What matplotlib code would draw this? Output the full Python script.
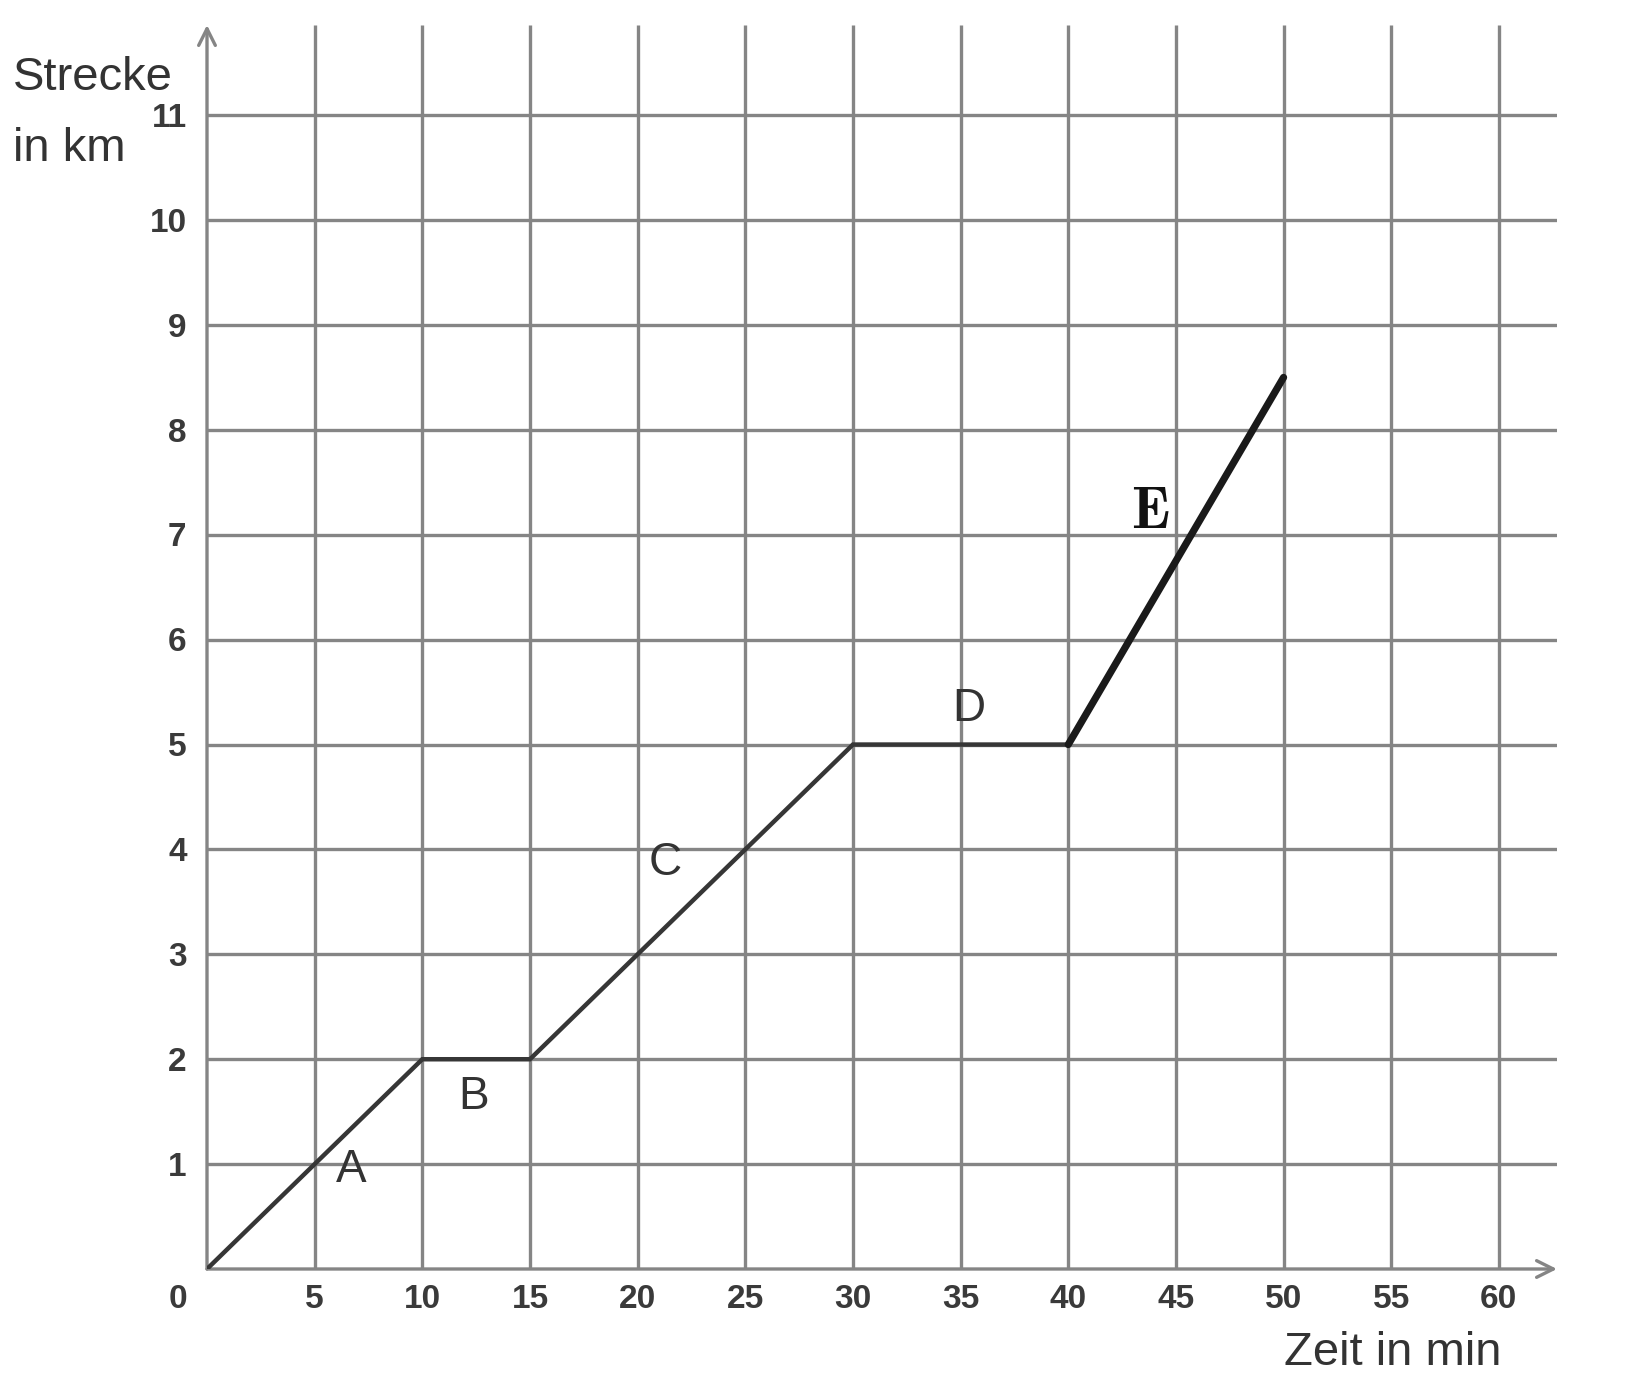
import numpy as np
import matplotlib
matplotlib.use('Agg')
import matplotlib.pyplot as plt

# Weg-Zeit-Diagramm
zeit = [0, 10, 15, 30, 40]        # min, Abschnitte A-D
strecke = [0, 2, 2, 5, 5]          # km
zeit_e = [40, 50]                  # Abschnitt E
strecke_e = [5, 8.5]

labels = ['A', 'B', 'C', 'D']
label_x = [6.7, 12.4, 21.3, 35.4]
label_y = [0.94, 1.64, 3.87, 5.34]

x_ticks = [5, 10, 15, 20, 25, 30, 35, 40, 45, 50, 55, 60]
y_ticks = [1, 2, 3, 4, 5, 6, 7, 8, 9, 10, 11]

plt.rcParams['font.family'] = ['Liberation Sans', 'DejaVu Sans']
plt.rcParams['mathtext.fontset'] = 'cm'

fig = plt.figure(figsize=(16.32, 13.90), dpi=100)
ax = fig.add_axes([207/1632, 121/1390, 1350/1632, 1244/1390])
xmax, ymax = 62.7, 11.86
ax.set_xlim(0, xmax)
ax.set_ylim(0, ymax)
ax.axis('off')

grid_c = '#858585'
for x in x_ticks:
    ax.plot([x, x], [0, ymax], color=grid_c, lw=2.4, solid_capstyle='butt', zorder=1)
for y in y_ticks:
    ax.plot([0, xmax], [y, y], color=grid_c, lw=2.4, solid_capstyle='butt', zorder=1)

# Achsen mit Pfeilen
ax.annotate('', xy=(xmax, 0), xytext=(0, 0),
            arrowprops=dict(arrowstyle='->', color=grid_c, lw=2.4, mutation_scale=30,
                            shrinkA=0, shrinkB=0), annotation_clip=False)
ax.annotate('', xy=(0, ymax), xytext=(0, 0),
            arrowprops=dict(arrowstyle='->', color=grid_c, lw=2.4, mutation_scale=30,
                            shrinkA=0, shrinkB=0), annotation_clip=False)

ax.plot(zeit, strecke, color='#363636', lw=3.2, solid_joinstyle='miter', zorder=3)
ax.plot(zeit_e, strecke_e, color='#1a1a1a', lw=5.2, solid_capstyle='round', zorder=4)

for t, x, y in zip(labels, label_x, label_y):
    ax.text(x, y, t, fontsize=33, color='#333333', ha='center', va='center', zorder=5)
ax.text(43.8, 7.21, r'$\mathbf{E}$', fontsize=42, color='#111111', ha='center',
        va='center', zorder=5)

tick_c = '#3a3a3a'
for x in x_ticks:
    ax.text(x, -0.29, str(x), fontsize=24, fontweight='bold', color=tick_c,
            ha='center', va='center')
for y in y_ticks:
    ax.text(-0.95, y - 0.03, str(y), fontsize=24, fontweight='bold', color=tick_c,
            ha='right', va='center')
ax.text(-1.35, -0.29, '0', fontsize=24, fontweight='bold', color=tick_c,
        ha='center', va='center')

ax.text(-9.0, 11.35, 'Strecke', fontsize=34, color='#333333', ha='left', va='center')
ax.text(-9.0, 10.68, 'in km', fontsize=34, color='#333333', ha='left', va='center')
ax.text(60.1, -0.8, 'Zeit in min', fontsize=34, color='#333333', ha='right', va='center')

fig.savefig('out.png', dpi=100, facecolor='white')
